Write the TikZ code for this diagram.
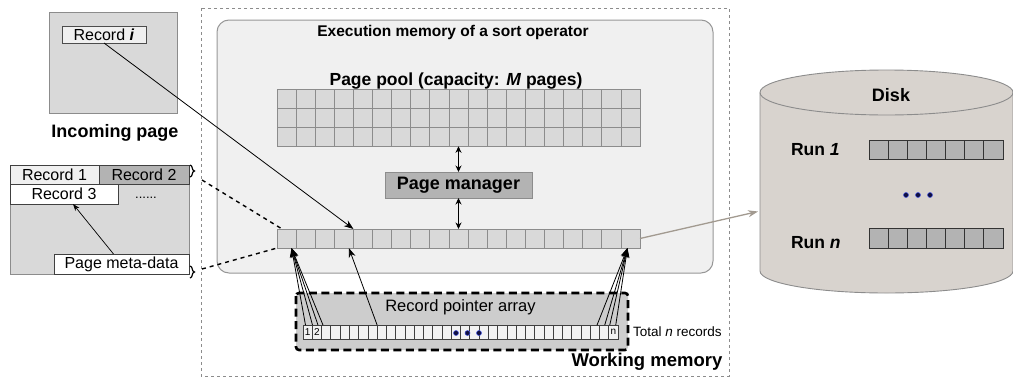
\documentclass[tikz,border=0pt]{standalone}
\usepackage{fontspec}
\setmainfont{Liberation Sans}
\usetikzlibrary{arrows.meta,decorations.pathreplacing}
\newcommand\fsz[1]{\fontsize{#1}{#1}\selectfont}
\definecolor{pagegray}{HTML}{D9D9D9}
\definecolor{lightfill}{HTML}{F0F0F0}
\definecolor{midgray}{HTML}{B3B3B3}
\definecolor{edgegray}{HTML}{8C8C8C}
\definecolor{diskfill}{HTML}{D8D3CE}
\definecolor{brownarrow}{HTML}{A29A90}
\definecolor{wmfill}{HTML}{CDCDCD}
\definecolor{dotnavy}{HTML}{101040}
\definecolor{dotblue}{HTML}{4050E0}
\begin{document}
\begin{tikzpicture}[x=1pt,y=-1pt,
  every node/.style={inner sep=0pt,outer sep=0pt},
  boxn/.style={draw=#1,line width=0.8pt,rectangle},
  cell/.style={draw=edgegray,fill=pagegray,line width=0.7pt,minimum width=19.105pt,minimum height=19.1pt},
  pcell/.style={draw=black!75,fill=white!95!black,line width=0.6pt,minimum width=9.265pt,minimum height=14.5pt,font=\fsz{10}},
  runcell/.style={draw=black!80,fill=midgray,line width=0.8pt,minimum width=19.14pt,minimum height=19.5pt},
  arr/.style={draw=black,line width=0.8pt,-{Stealth[length=9.5pt,width=7pt]}},
  thinarr/.style={draw=black,line width=0.7pt,-{Stealth[length=7pt,width=5pt]}},
  dbl/.style={draw=black,line width=0.9pt,{Stealth[length=6.5pt,width=6pt]}-{Stealth[length=6.5pt,width=6pt]}},
  dashln/.style={draw=black,line width=1.4pt,dash pattern=on 4pt off 4pt},
  bracestyle/.style={draw=black,line width=1.2pt,decorate,decoration={brace,amplitude=4.5pt}},
  bigdot/.style={circle,fill=dotnavy,draw=dotblue,line width=0.5pt,minimum size=5pt}
]
\useasboundingbox (0,0) rectangle (1013,378);

% ---------- outer dotted box ----------
\draw[draw=edgegray,line width=1pt,dash pattern=on 3pt off 3pt] (201,8) rectangle (729,376);

% ---------- incoming page ----------
\node[boxn=edgegray,fill=pagegray,minimum width=128pt,minimum height=101pt] (inc) at (113,62.5) {};
\node[boxn=black!70,fill=lightfill,minimum width=84pt,minimum height=17pt,font=\fsz{16}] (reci) at (104,34.5) {Record \textbf{\textit{i}}};
\node[anchor=base,font=\bfseries\fsz{18}] (inclabel) at (115,137) {Incoming page};

% ---------- left page ----------
\node[boxn=edgegray,fill=pagegray,minimum width=179pt,minimum height=109pt] (lpage) at (99.5,219.5) {};
\node[boxn=black!75,fill=lightfill,minimum width=89pt,minimum height=19pt,font=\fsz{16}] (rec1) at (54.5,174.5) {Record 1};
\node[boxn=black!75,fill=midgray,minimum width=90pt,minimum height=19pt,font=\fsz{16}] (rec2) at (144,174.5) {Record 2};
\node[boxn=black!75,fill=white,minimum width=108pt,minimum height=20pt,font=\fsz{16}] (rec3) at (64,194) {Record 3};
\node[anchor=base,font=\fsz{13}] (ldots) at (146,198.5) {......};
\node[boxn=black!75,fill=white,minimum width=135pt,minimum height=20pt,font=\fsz{16}] (pmd) at (121.5,264) {Page meta-data};
\draw[thinarr] ([xshift=-8pt]pmd.north) -- ([xshift=9pt]rec3.south);

% braces
\draw[bracestyle] (190,165) -- (190,177);
\draw[bracestyle] (190,266) -- (190,278);
\coordinate (btop) at (202,180);
\coordinate (bbot) at (202,269);

% ---------- execution memory ----------
\draw[draw=edgegray!90,fill=lightfill,line width=1pt,rounded corners=12pt] (217,20) rectangle (713,273);
\node[anchor=base,font=\bfseries\fsz{15.5}] (execlabel) at (453,36.5) {Execution memory of a sort operator};
\node[anchor=base,font=\bfseries\fsz{17.5}] (poollabel) at (456,85) {Page pool (capacity: \textit{M} pages)};

\foreach \r in {1,2,3}{
  \foreach \c in {1,...,19}{
    \node[cell] (g\r-\c) at ({277+(\c-0.5)*19.105},{89+(\r-0.5)*19.1}) {};
  }
}
\node[boxn=edgegray,fill=midgray,minimum width=147pt,minimum height=26pt,font=\bfseries\fsz{18}] (pm) at (458.5,185) {Page manager};

\foreach \c in {1,...,19}{
  \node[cell] (r\c) at ({277+(\c-0.5)*19.105},238.5) {};
}
\draw[dbl] (g3-10.south) -- (pm.north);
\draw[dbl] (pm.south) -- (r10.north);

% dashed lines from page braces to the first pointer slot
\draw[dashln] (btop) -- ([xshift=5pt]r1.north west);
\draw[dashln] (bbot) -- (r1.south west);

% record i arrow
\draw[arr] (reci.south) -- (r4.north east);

% ---------- working memory ----------
\draw[draw=black,fill=wmfill,line width=2.6pt,dash pattern=on 8pt off 4.5pt,rounded corners=3pt] (296,293) rectangle (628,350);
\node[font=\fsz{16.5}] (rpalabel) at (460.5,307.5) {Record pointer array};
\foreach \i in {1,...,34}{
  \node[pcell] (p\i) at ({303+(\i-0.5)*9.265},332.3) {};
}
\node[font=\fsz{10}] at (p1) {1};
\node[font=\fsz{10}] at (p2) {2};
\node[font=\fsz{10}] at (p34) {n};
\node[bigdot] (d1) at (456,333) {};
\node[bigdot] (d2) at (467.5,333) {};
\node[bigdot] (d3) at (479,333) {};
\node[anchor=west,font=\fsz{13.5}] (totlabel) at (633,332) {Total \textit{n} records};
\node[anchor=base,font=\bfseries\fsz{18.5}] (wmlabel) at (647,366) {Working memory};

% pointer arrows
\foreach \dx in {2.5,9.5,15,20}{
  \draw[arr] ([xshift=\dx pt]p1.north west) -- ([xshift=5pt]r1.south);
}
\draw[arr] (p9.north west) -- ([xshift=5pt]r4.south);
\foreach \dx in {-11.7,-4,1,7}{
  \draw[arr] ([xshift=\dx pt]p34.north west) -- ([xshift=-3pt]r19.south);
}

% ---------- disk ----------
\draw[draw=edgegray,fill=diskfill,line width=0.9pt]
  (760,92.5) -- (760,271) arc[start angle=180,end angle=360,x radius=126.5pt,y radius=22pt]
  -- (1013,92.5) arc[start angle=0,end angle=180,x radius=126.5pt,y radius=22.5pt] -- cycle;
\draw[draw=edgegray,line width=0.9pt] (760,92.5) arc[start angle=180,end angle=360,x radius=126.5pt,y radius=22.5pt];
\coordinate (diskin) at (758,211.5);
\node[anchor=base,font=\bfseries\fsz{18}] (disklabel) at (891,101.5) {Disk};
\node[anchor=base west,font=\bfseries\fsz{17.5}] (run1label) at (791,155) {Run \textit{1}};
\node[anchor=base west,font=\bfseries\fsz{17.5}] (runnlabel) at (791,248) {Run \textit{n}};
\foreach \c in {1,...,7}{
  \node[runcell] (a\c) at ({869+(\c-0.5)*19.14},150) {};
  \node[runcell] (b\c) at ({869+(\c-0.5)*19.14},238.5) {};
}
\node[bigdot] (e1) at (906,195) {};
\node[bigdot] (e2) at (918,195) {};
\node[bigdot] (e3) at (930,195) {};

\draw[draw=brownarrow,line width=1.3pt,-{Stealth[length=10pt,width=7pt]}] (r19.east) -- (diskin);
\end{tikzpicture}
\end{document}
